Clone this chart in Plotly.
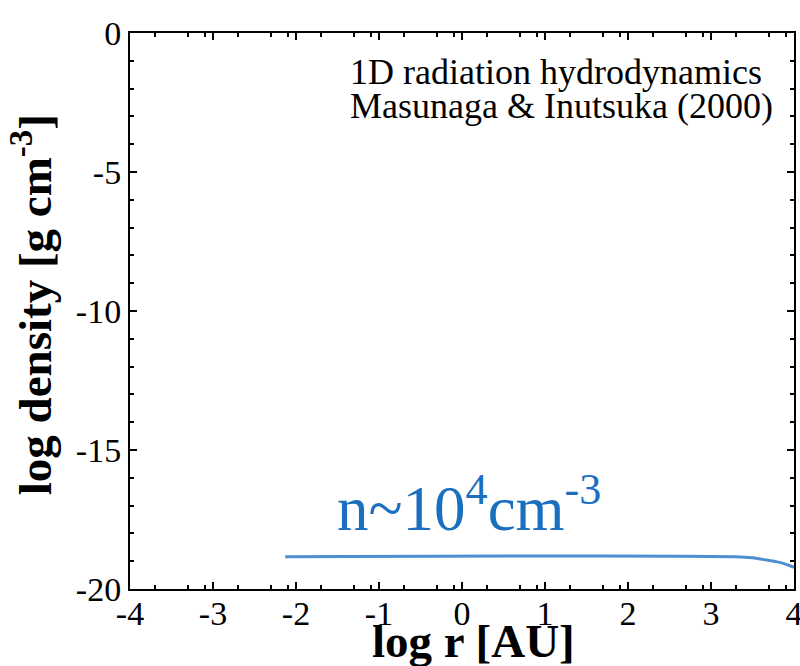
import plotly.graph_objects as go

# data
log_r = [-2.13, 3.30, 3.50, 3.67, 3.85, 4.00]
log_rho = [-18.84, -18.84, -18.88, -18.96, -19.06, -19.22]

x_ticks = [-4, -3, -2, -1, 0, 1, 2, 3, 4]
x_ticktext = ["-4", "-3", "-2", "-1", "0", "1", "2", "3", "4"]
y_ticks = [0, -5, -10, -15, -20]
y_ticktext = ["0", "-5", "-10", "-15", "-20"]
x_minor_offsets = [0.3, 0.7, 0.9]
x_minor = [k + o for k in range(-4, 4) for o in x_minor_offsets]
y_minor = [v for v in range(-20, 1) if v % 5 != 0]

FONT = "Liberation Serif, Times New Roman, serif"

fig = go.Figure()
fig.add_trace(go.Scatter(x=log_r, y=log_rho, mode="lines",
                         line=dict(color="#4f8ecf", width=3, shape="spline"),
                         showlegend=False, hoverinfo="skip"))

axis_common = dict(showgrid=False, zeroline=False, showline=True,
                   linecolor="black", linewidth=2, mirror="ticks",
                   ticks="inside", ticklen=7, tickwidth=2, tickcolor="black",
                   ticklabeloverflow="allow", automargin=False,
                   tickfont=dict(family=FONT, size=34, color="black"))

fig.update_xaxes(range=[-4, 4], tickmode="array", tickvals=x_ticks,
                 ticktext=x_ticktext, ticklabelstandoff=-7,
                 minor=dict(tickmode="array", tickvals=x_minor, ticks="inside",
                            ticklen=4, tickwidth=2, tickcolor="black"),
                 **axis_common)
fig.update_yaxes(range=[-20, 0], tickmode="array", tickvals=y_ticks,
                 ticktext=y_ticktext,
                 minor=dict(tickmode="array", tickvals=y_minor, ticks="inside",
                            ticklen=4, tickwidth=2, tickcolor="black"),
                 **axis_common)

annotations = [
    dict(text="<b>log r [AU]</b>", x=0.518, y=-0.0935, xref="paper", yref="paper",
         showarrow=False, xanchor="center", yanchor="middle",
         font=dict(family=FONT, size=47, color="black")),
    dict(text="<b>log density [g cm<sup>-3</sup>]</b>", x=-0.147, y=0.511,
         xref="paper", yref="paper", textangle=-90, showarrow=False,
         xanchor="center", yanchor="middle",
         font=dict(family=FONT, size=47, color="black")),
    dict(text="1D radiation hydrodynamics", x=0.329, y=0.93, xref="paper",
         yref="paper", showarrow=False, xanchor="left", yanchor="middle",
         font=dict(family=FONT, size=36, color="black")),
    dict(text="Masunaga &amp; Inutsuka (2000)", x=0.329, y=0.868, xref="paper",
         yref="paper", showarrow=False, xanchor="left", yanchor="middle",
         font=dict(family=FONT, size=36, color="black")),
    dict(text="n~10<sup>4</sup>cm<sup>-3</sup>", x=0.51, y=0.152, xref="paper",
         yref="paper", showarrow=False, xanchor="center", yanchor="middle",
         font=dict(family=FONT, size=63, color="#1a6fbf")),
]
fig.update_layout(width=800, height=666, plot_bgcolor="white", paper_bgcolor="white",
                  margin=dict(l=130, r=6, t=33, b=77, autoexpand=False),
                  annotations=annotations)

fig.write_html("out.html")
